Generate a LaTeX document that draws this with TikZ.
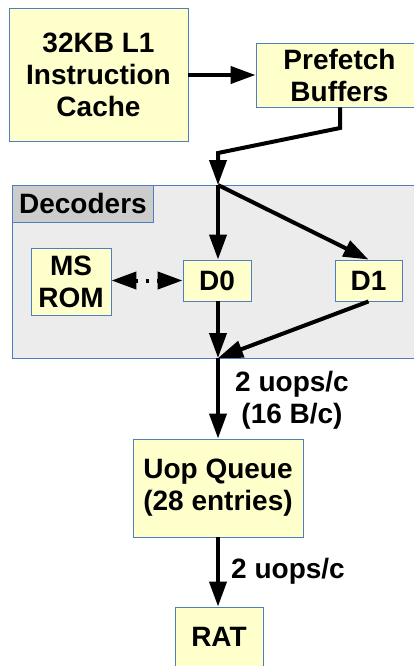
\documentclass[tikz,border=0pt]{standalone}
\usepackage{fontspec}
\setmainfont{Liberation Sans}
\usepackage{xcolor}
\usepackage{tikz}
\usetikzlibrary{arrows.meta,positioning}
\definecolor{boxfill}{HTML}{FFFFCC}
\definecolor{boxline}{HTML}{4F7DBF}
\definecolor{decfill}{HTML}{ECECEC}
\definecolor{labfill}{HTML}{CCCCCC}
\tikzset{>={Triangle[length=25pt,width=17pt]}}

\begin{document}
\begin{tikzpicture}[x=1pt,y=-1pt,
                    unit/.style={draw=boxline, line width=0.9pt, fill=boxfill, align=center,
                                 inner sep=0pt, font=\fontsize{28}{32}\selectfont\bfseries},
                    flow/.style={line width=4pt, black, ->},
                    msflow/.style={line width=4pt, black, <->, dash pattern=on 3pt off 8pt},
                    rate/.style={align=center, font=\fontsize{28}{32}\selectfont\bfseries},
                   ]

\useasboundingbox (0,0) rectangle (414,666);
\clip (0,0) rectangle (414,666);

% decoder block
\draw[boxline, line width=0.9pt, fill=decfill] (12,185) rectangle (440,358);
\node[unit, fill=labfill, anchor=north west, minimum width=141pt, minimum height=37pt] (declabel) at (12,185) {Decoders};

\node[unit, minimum width=179pt, minimum height=133pt] (icache) at (98.5,74.5) {32KB L1\\Instruction\\Cache};
\node[unit, minimum width=167pt, minimum height=64pt] (prefetch) at (339.5,75) {Prefetch\\Buffers};

\node[unit, minimum width=80pt, minimum height=67pt] (msrom) at (71,281.5) {MS\\ROM};
\node[unit, minimum width=68pt, minimum height=41pt] (d0) at (217,280.5) {D0};
\node[unit, minimum width=67pt, minimum height=41pt] (d1) at (368.5,280.5) {D1};

\node[unit, minimum width=170pt, minimum height=98pt] (uopq) at (218,488) {Uop Queue\\(28 entries)};
\node[unit, minimum width=88pt, minimum height=60pt] (rat) at (219,637) {RAT};

\coordinate (bend) at (340,128);
\coordinate (split) at (218,153);
\coordinate (dectop) at (218,185);
\coordinate (decbot) at (218,358);

\draw[flow] (icache.east |- prefetch.west) -- (prefetch.west);
\draw[flow] (prefetch.south -| bend) -- (bend) -- (split) -- (dectop);
\draw[flow] (dectop) -- (d0.north -| dectop);
\draw[flow] (dectop) -- (d1.north);
\draw[msflow] (msrom.east |- d0.west) -- (d0.west);
\draw[flow] (d0.south -| decbot) -- (decbot);
\draw[flow] (d1.south) -- (decbot);
\draw[flow] (decbot) -- (uopq.north -| decbot);
\draw[flow] (uopq.south -| decbot) -- (rat.north -| decbot);

\node[rate] (rate1) at (292,400) {2 uops/c\\(16 B/c)};
\node[rate] (rate2) at (288,571) {2 uops/c};

\end{tikzpicture}
\end{document}
